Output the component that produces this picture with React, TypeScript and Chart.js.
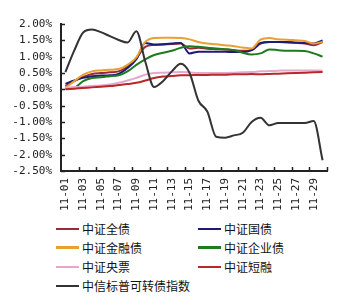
import React, { useEffect, useRef } from "react";
import { Chart, registerables } from "chart.js";

Chart.register(...registerables);

const days: string[] = [
  "11-01","11-02","11-03","11-04","11-05","11-06","11-07","11-08","11-09","11-10",
  "11-11","11-12","11-13","11-14","11-15","11-16","11-17","11-18","11-19","11-20",
  "11-21","11-22","11-23","11-24","11-25","11-26","11-27","11-28","11-29","11-30",
];

const yTicks: number[] = [2.0, 1.5, 1.0, 0.5, 0.0, -0.5, -1.0, -1.5, -2.0, -2.5];

const quanZhai: number[] = [0.10,0.25,0.38,0.47,0.50,0.52,0.55,0.70,0.95,1.30,1.36,1.37,1.39,1.40,1.25,1.27,1.24,1.23,1.22,1.20,1.18,1.20,1.40,1.45,1.45,1.43,1.42,1.40,1.35,1.45];
const guoZhai: number[] = [0.17,0.27,0.35,0.40,0.42,0.43,0.47,0.65,0.92,1.42,1.37,1.38,1.40,1.42,1.10,1.15,1.15,1.15,1.15,1.14,1.14,1.20,1.42,1.45,1.45,1.45,1.43,1.42,1.40,1.50];
const jinRongZhai: number[] = [0.05,0.25,0.45,0.55,0.58,0.60,0.62,0.75,0.98,1.45,1.57,1.58,1.58,1.57,1.53,1.45,1.40,1.38,1.35,1.32,1.28,1.25,1.52,1.57,1.53,1.52,1.50,1.48,1.40,1.45];
const qiYeZhai: number[] = [0.02,0.05,0.25,0.35,0.37,0.40,0.43,0.55,0.75,0.92,1.05,1.12,1.18,1.27,1.32,1.30,1.27,1.25,1.23,1.20,1.12,1.07,1.10,1.22,1.20,1.18,1.18,1.17,1.10,1.00];
const yangPiao: number[] = [0.05,0.07,0.08,0.10,0.12,0.15,0.20,0.27,0.35,0.45,0.50,0.51,0.52,0.53,0.52,0.50,0.50,0.50,0.50,0.51,0.52,0.53,0.55,0.56,0.57,0.58,0.58,0.58,0.58,0.57];
const duanRong: number[] = [0.00,0.02,0.04,0.06,0.08,0.10,0.13,0.16,0.20,0.27,0.35,0.39,0.41,0.43,0.43,0.44,0.44,0.45,0.45,0.46,0.46,0.47,0.46,0.47,0.48,0.49,0.50,0.51,0.52,0.53];
const keZhuanZhai: number[] = [0.53,1.19,1.74,1.83,1.75,1.63,1.51,1.43,1.78,0.85,0.07,0.25,0.55,0.78,0.50,-0.35,-0.68,-1.45,-1.48,-1.41,-1.33,-1.00,-0.87,-1.10,-1.03,-1.03,-1.03,-1.03,-0.97,-2.17];

const seriesNames: string[] = ["中证全债","中证国债","中证金融债","中证企业债","中证央票","中证短融","中信标普可转债指数"];
const seriesData: number[][] = [quanZhai, guoZhai, jinRongZhai, qiYeZhai, yangPiao, duanRong, keZhuanZhai];
const seriesColors: string[] = ["#9a2a3a","#1c1c78","#e8a030","#1e7a1e","#e4a8cc","#b82828","#333333"];

const legendPos: { left: number; top: number }[] = [
  { left: 56, top: 229 },
  { left: 198, top: 229 },
  { left: 56, top: 247.5 },
  { left: 198, top: 247.5 },
  { left: 56, top: 267 },
  { left: 198, top: 267 },
  { left: 56, top: 286 },
];

const tickPlugin = {
  id: "inwardTicks",
  afterDraw(chart: any) {
    const { ctx, chartArea } = chart;
    const ys = chart.scales.y;
    ctx.save();
    ctx.strokeStyle = "#222";
    ctx.lineWidth = 1.5;
    const n = days.length;
    const w = (chartArea.right - chartArea.left) / n;
    for (let i = 2; i <= n; i += 2) {
      const x = Math.round(chartArea.left + i * w) + 0.5;
      ctx.beginPath();
      ctx.moveTo(x, chartArea.bottom);
      ctx.lineTo(x, chartArea.bottom - 4);
      ctx.stroke();
    }
    for (const v of yTicks) {
      const y = Math.round(ys.getPixelForValue(v)) + 0.5;
      ctx.beginPath();
      ctx.moveTo(chartArea.left, y);
      ctx.lineTo(chartArea.left + 4, y);
      ctx.stroke();
    }
    ctx.restore();
  },
};

export default function App() {
  const ref = useRef<HTMLCanvasElement | null>(null);

  useEffect(() => {
    if (!ref.current) return;
    const chart = new Chart(ref.current, {
      type: "line",
      data: {
        labels: days,
        datasets: seriesNames.map((name, i) => ({
          label: name,
          data: seriesData[i],
          borderColor: seriesColors[i],
          backgroundColor: seriesColors[i],
          borderWidth: 2,
          pointRadius: 0,
          cubicInterpolationMode: "monotone" as const,
          fill: false,
          order: seriesNames.length - i,
        })),
      },
      options: {
        animation: false,
        responsive: false,
        maintainAspectRatio: false,
        layout: { padding: { left: 0, right: 20, top: 24, bottom: 0 } },
        plugins: { legend: { display: false }, tooltip: { enabled: false } },
        scales: {
          x: {
            type: "category",
            offset: true,
            grid: { display: false, drawTicks: false },
            border: { display: true, color: "#222", width: 2 },
            afterFit: (s: any) => { s.height = 47; },
            ticks: {
              autoSkip: false,
              minRotation: 90,
              maxRotation: 90,
              padding: 7,
              color: "#222",
              font: { family: "'DejaVu Sans Mono', monospace", size: 11 },
              callback: (_v: any, idx: number) => (idx % 2 === 0 ? days[idx] : ""),
            },
          },
          y: {
            min: -2.5,
            max: 2.0,
            grid: { display: false, drawTicks: false },
            border: { display: true, color: "#222", width: 2 },
            afterFit: (s: any) => { s.width = 61; },
            afterBuildTicks: (s: any) => { s.ticks = yTicks.map((v) => ({ value: v })); },
            ticks: {
              padding: 9,
              color: "#222",
              font: { family: "'DejaVu Sans Mono', monospace", size: 11 },
              callback: (v: any) => Number(v).toFixed(2) + "%",
            },
          },
        },
      },
      plugins: [tickPlugin],
    });
    return () => chart.destroy();
  }, []);

  return (
    <div style={{ position: "absolute", left: 0, top: 0, width: 347, height: 308, background: "#fff" }}>
      <canvas ref={ref} width={347} height={218} style={{ position: "absolute", left: 0, top: 0, width: 347, height: 218 }} />
      {seriesNames.map((name, i) => (
        <div key={name} style={{ position: "absolute", left: legendPos[i].left, top: legendPos[i].top - 9, height: 18, display: "flex", alignItems: "center", whiteSpace: "nowrap" }}>
          <span style={{ display: "inline-block", width: 23, height: 2.5, background: seriesColors[i] }} />
          <span style={{ marginLeft: 3, fontFamily: "'Noto Sans CJK SC', sans-serif", fontSize: 12, color: "#111", lineHeight: "18px" }}>{name}</span>
        </div>
      ))}
    </div>
  );
}
